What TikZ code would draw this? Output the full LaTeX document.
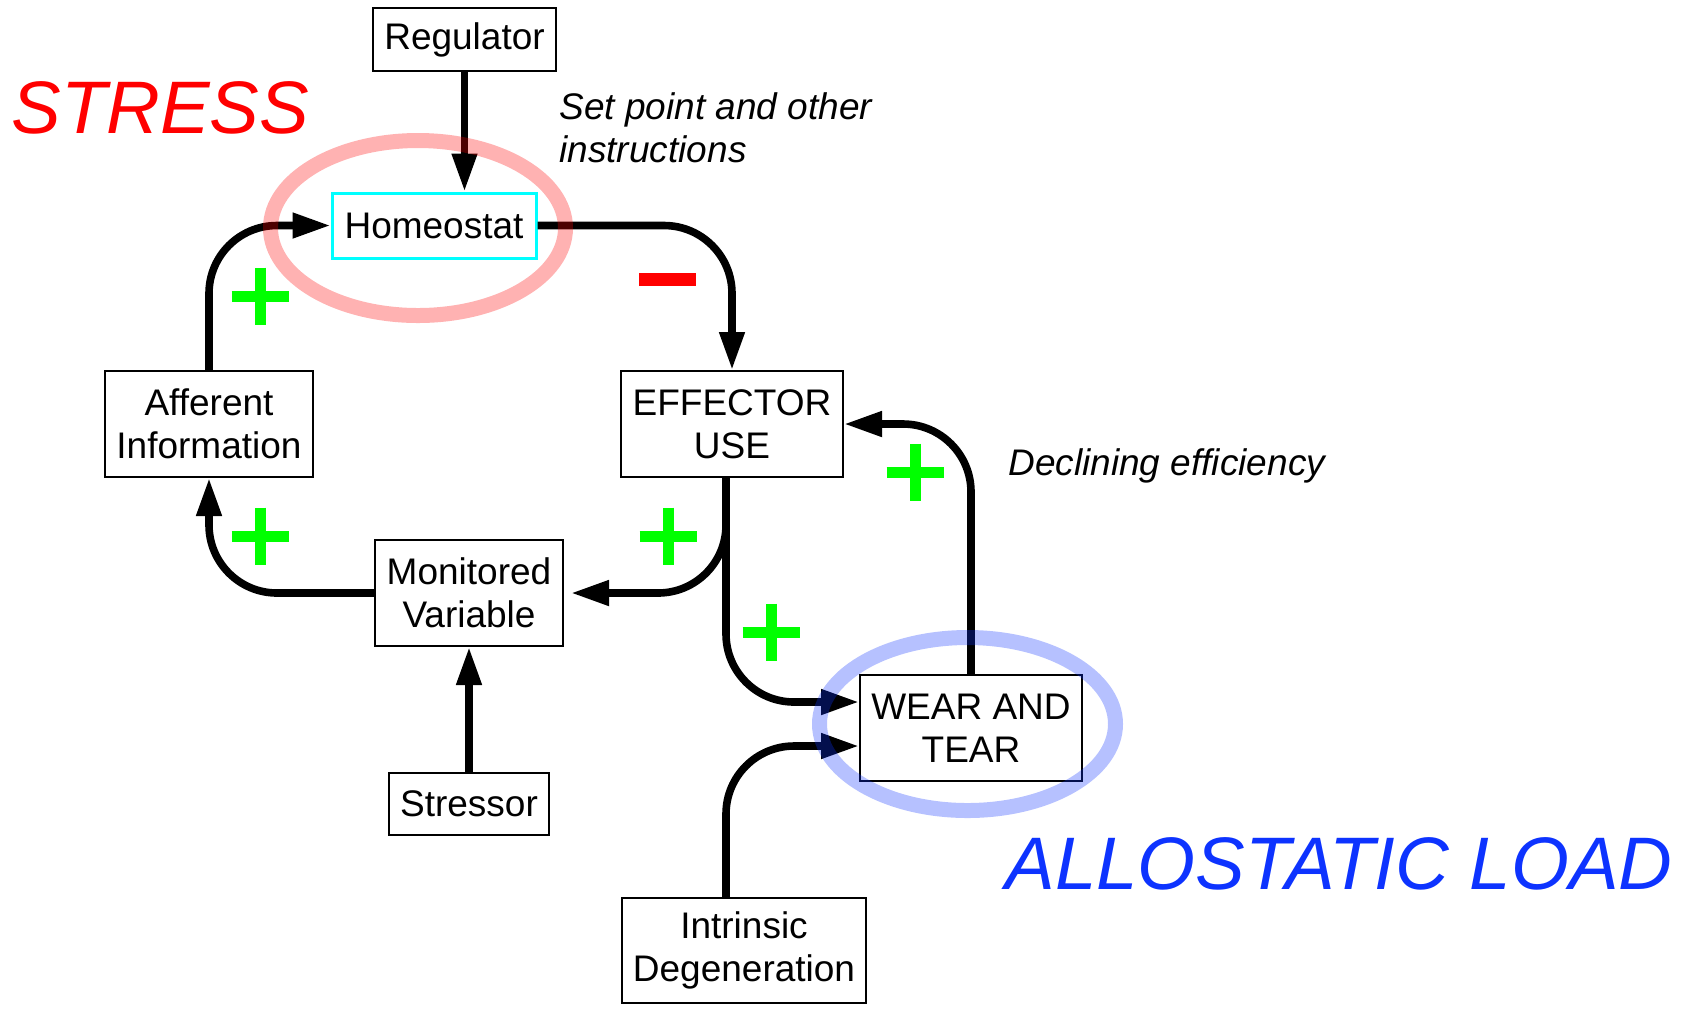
\documentclass[tikz,border=0pt]{standalone}
\usepackage{fontspec}
\setmainfont{Liberation Sans}
\usetikzlibrary{arrows.meta}

\definecolor{stressred}{RGB}{255,0,0}
\definecolor{loadblue}{RGB}{13,51,255}
\definecolor{plusgreen}{RGB}{0,255,0}
\definecolor{homeocyan}{RGB}{0,255,255}

\tikzset{
  box/.style={draw=black, line width=1pt, inner sep=0pt, align=center,
    font=\fontsize{18.5}{21.5}\selectfont},
  homeobox/.style={box, draw=homeocyan, line width=1.5pt},
  link/.style={line width=3.8pt, rounded corners=34pt,
    -{Triangle[length=19pt,width=12pt]}},
  sign/.style={line width=5.5pt},
  note/.style={font=\fontsize{18.5}{21.5}\selectfont\itshape, align=left,
    inner sep=0pt, anchor=north west},
  title/.style={font=\fontsize{37.2}{44}\selectfont\itshape, inner sep=0pt,
    anchor=base west},
  halo/.style={line width=7.5pt, opacity=0.3}
}

\begin{document}
\begin{tikzpicture}[x=0.5pt, y=-0.5pt]

\useasboundingbox (0,0) rectangle (1690,1009);

% boxes
\node[box, minimum width=91.5pt, minimum height=31.5pt] (reg) at (464.5,39.5) {Regulator};
\node[homeobox, minimum width=102pt, minimum height=32.5pt] (homeo) at (434,225.5) {Homeostat};
\node[box, minimum width=104pt, minimum height=53pt] (aff) at (209,424) {Afferent\\Information};
\node[box, minimum width=111pt, minimum height=53pt] (eff) at (732,424) {EFFECTOR\\USE};
\node[box, minimum width=94pt, minimum height=53pt] (mon) at (469,593) {Monitored\\Variable};
\node[box, minimum width=80pt, minimum height=31pt] (str) at (469,804) {Stressor};
\node[box, minimum width=111pt, minimum height=53pt] (wear) at (971,728) {WEAR AND\\TEAR};
\node[box, minimum width=122pt, minimum height=52.5pt] (intr) at (744,950.5) {Intrinsic\\Degeneration};

% arrows
\draw[link] (reg.south) -- (reg.south |- homeo.north);
\draw[link] (homeo.east) -| (eff.north);
\draw[link] (aff.north) |- (homeo.west);
\draw[link] (mon.west) -| (aff.south);
\draw[link] (str.north) -- (mon.south);
\draw[link, shorten >=3.5pt] ([xshift=-3pt]eff.south) |- (mon.east);
\draw[link] ([xshift=-3pt]eff.south) |- ([yshift=13pt]wear.west);
\draw[link] ([xshift=-9pt]intr.north) |- ([yshift=-9pt]wear.west);
\draw[link] (wear.north) |- (eff.east);

% signs
\foreach \px/\py in {260/296, 260/536, 668/536, 915/472, 771/632}
  \draw[sign, plusgreen] (\px-28.5,\py) -- (\px+28.5,\py) (\px,\py-28.5) -- (\px,\py+28.5);
\draw[line width=6.5pt, stressred] (639,279.5) -- (696,279.5);

% labels
\node[title, stressred] (stress) at (11,133) {STRESS};
\node[title, loadblue] (load) at (1005,889) {ALLOSTATIC LOAD};
\node[note] (setpoint) at (559,92) {Set point and other\\instructions};
\node[note, anchor=base west] (decline) at (1008,475) {Declining efficiency};

% halos
\draw[halo, stressred] (418,228) ellipse [x radius=147.5, y radius=87.5];
\draw[halo, loadblue] (967.5,724) ellipse [x radius=148, y radius=86.5];

\end{tikzpicture}
\end{document}
